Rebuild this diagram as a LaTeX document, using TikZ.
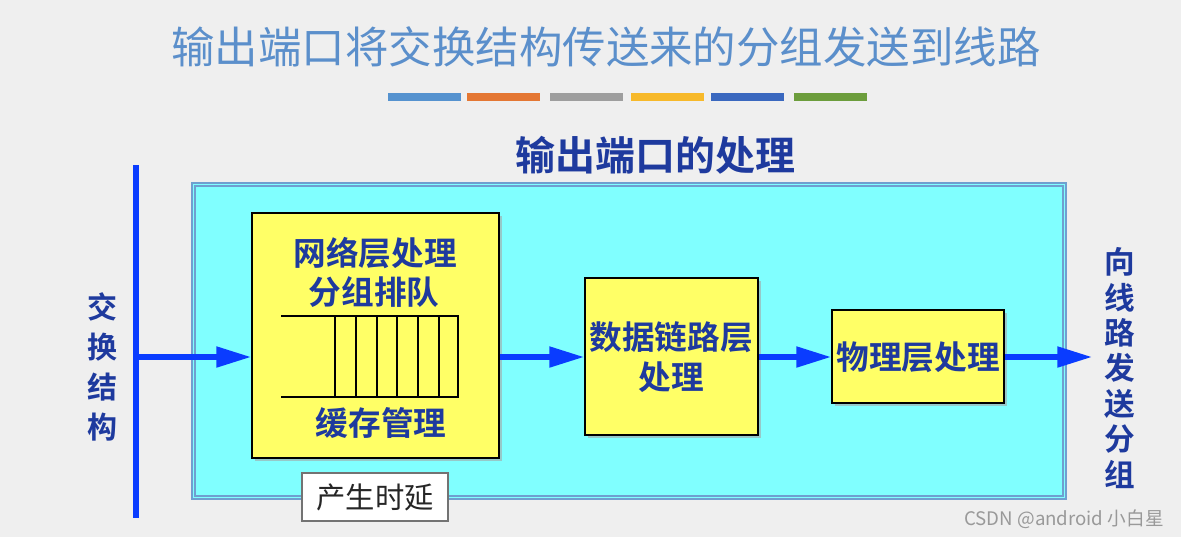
\documentclass[tikz,border=0pt]{standalone}
\usepackage{fontspec}
\setmainfont{Noto Sans CJK SC}
\newfontfamily\cjkb{Noto Sans CJK SC Bold}
\usetikzlibrary{arrows.meta,shadows}
\definecolor{bgc}{HTML}{EFEFEF}
\definecolor{titlec}{HTML}{5B8FCB}
\definecolor{darkc}{HTML}{1E3A9E}
\definecolor{cyanc}{HTML}{80FFFF}
\definecolor{cyanb}{HTML}{6F9FD0}
\definecolor{yelc}{HTML}{FFFF66}
\definecolor{arrc}{HTML}{0A3CFF}
\definecolor{b1}{HTML}{5592CF}
\definecolor{b2}{HTML}{E47733}
\definecolor{b3}{HTML}{9E9E9E}
\definecolor{b4}{HTML}{F7B92A}
\definecolor{b5}{HTML}{3A68BF}
\definecolor{b6}{HTML}{6C9D3C}
\tikzset{
  ybox/.style={draw=black, line width=1.5pt, fill=yelc, inner sep=0pt,
    drop shadow={shadow xshift=2.5pt, shadow yshift=-2.5pt, fill=black!35, opacity=0.6}},
  btxt/.style={text=darkc, font=\cjkb\fontsize{24.5}{30}\selectfont, inner sep=0pt, align=center},
  vtxt/.style={text=darkc, inner sep=0pt, align=center},
  arr/.style={draw=arrc, line width=3.8pt, -{Triangle[length=26pt,width=15pt]}},
  cbar/.style={inner sep=0pt, minimum height=6pt, minimum width=54.75pt},
  qline/.style={draw=black, line width=0.9pt},
}
\begin{document}
\begin{tikzpicture}[x=0.75pt,y=-0.75pt]
\useasboundingbox (0,0) rectangle (1181,537);
\fill[bgc] (0,0) rectangle (1181,537);
% title
\node[text=titlec, font=\fontsize{32.6}{36}\selectfont, inner sep=0pt] (title) at (606,47) {输出端口将交换结构传送来的分组发送到线路};
% colour bars
\node[cbar, fill=b1] (cb1) at (424,97) {};
\node[cbar, fill=b2] (cb2) at (503.5,97) {};
\node[cbar, fill=b3] (cb3) at (586,97) {};
\node[cbar, fill=b4] (cb4) at (667,97) {};
\node[cbar, fill=b5] (cb5) at (747,97) {};
\node[cbar, fill=b6] (cb6) at (830.5,97) {};
% heading
\node[text=darkc, font=\cjkb\fontsize{30}{34}\selectfont, inner sep=0pt] (head) at (655,155) {输出端口的处理};
% cyan frame
\node[draw=cyanb, line width=1.5pt, fill=cyanc, minimum width=655.5pt, minimum height=237pt, inner sep=0pt] (frame) at (629,341) {};
\draw[cyanb, line width=0.8pt] ([xshift=3pt,yshift=-3pt]frame.north west) rectangle ([xshift=-3pt,yshift=3pt]frame.south east);
% left bar
\node[fill=arrc, minimum width=4.5pt, minimum height=264.75pt, inner sep=0pt] (bar) at (136,341.5) {};
% boxes
\node[ybox, minimum width=185.25pt, minimum height=183.75pt] (box1) at (375.5,335.5) {};
\node[ybox, minimum width=129.75pt, minimum height=117.75pt] (box2) at (671.5,356.5) {};
\node[ybox, minimum width=129pt, minimum height=69.75pt] (box3) at (918,356.5) {};
% box1 texts
\node[btxt] (t1a) at (375,253) {网络层处理};
\node[btxt] (t1b) at (374,292) {分组排队};
\node[btxt] (t1c) at (381,423) {缓存管理};
% queue
\draw[qline] (281,316) -- (458,316) -- (458,397) -- (281,397);
\foreach \qx in {335,356,377,397,418,439} \draw[qline] (\qx,316) -- (\qx,397);
% box2, box3 texts
\node[btxt] (t2) at (671,357) {数据链路层\\处理};
\node[btxt] (t3) at (918,357) {物理层处理};
% delay label
\node[draw=black!55, line width=0.8pt, fill=white, minimum width=109.5pt, minimum height=36pt, inner sep=0pt, font=\fontsize{22}{26}\selectfont, text=black!85] (delay) at (375,497) {产生时延};
% arrows
\coordinate (mainy) at (0,357);
\coordinate (outend) at (1092,357);
\draw[arr] (bar.center |- mainy) -- (box1.west |- mainy);
\draw[arr] (box1.east |- mainy) -- (box2.west |- mainy);
\draw[arr] (box2.east |- mainy) -- (box3.west |- mainy);
\draw[arr] (box3.east |- mainy) -- (outend);
% side labels
\node[vtxt, font=\cjkb\fontsize{22.5}{30}\selectfont] (lefttxt) at (102,367) {交\\换\\结\\构};
\node[vtxt, font=\cjkb\fontsize{23}{26.6}\selectfont] (righttxt) at (1120,368) {向\\线\\路\\发\\送\\分\\组};
% watermark
\node[text=black!40, font=\fontsize{14}{16}\selectfont, inner sep=0pt] (wm) at (1064,519) {CSDN @android 小白星};
\end{tikzpicture}
\end{document}
